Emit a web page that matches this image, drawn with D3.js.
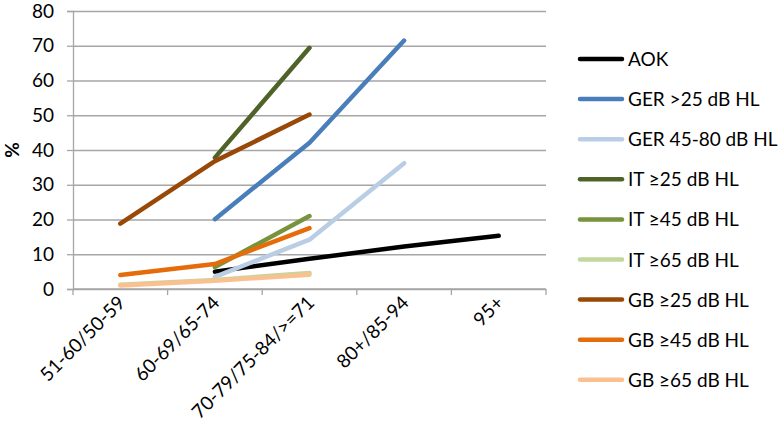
<!DOCTYPE html>
<html>
<head>
<meta charset="utf-8">
<script src="https://cdn.jsdelivr.net/npm/d3@7"></script>
<style>
  body { margin: 0; background: #fff; }
  svg text { font-family: Lato, "Open Sans", sans-serif; fill: #000; }
  .grid line { stroke: #a6a6a6; stroke-width: 1.3; }
  .grid path { display: none; }
  .axis path, .axis line { stroke: #a6a6a6; stroke-width: 1.3; }
</style>
</head>
<body>
<div id="chart"></div>
<script>
/* ── DATA ── */
const categories = ['51-60/50-59', '60-69/65-74', '70-79/75-84/>=71', '80+/85-94', '95+'];
const yTicks     = [0, 10, 20, 30, 40, 50, 60, 70, 80];

const seriesNames = ['AOK', 'GER >25 dB HL', 'GER 45-80 dB HL', 'IT \u226525 dB HL', 'IT \u226545 dB HL',
                     'IT \u226565 dB HL', 'GB \u226525 dB HL', 'GB \u226545 dB HL', 'GB \u226565 dB HL'];
const seriesColors = ['#000000', '#4a7ebb', '#b9cde5', '#4f6228', '#77933c',
                      '#c3d69b', '#984807', '#e46c0a', '#fac090'];

const aok     = [null, 5.0, 8.7, 12.2, 15.3];
const ger25   = [null, 20.1, 42.1, 71.5, null];
const ger45   = [null, 3.5, 14.2, 36.2, null];
const it25    = [null, 37.8, 69.4, null, null];
const it45    = [null, 6.3, 21.0, null, null];
const it65    = [1.2, 2.6, 4.6, null, null];
const gb25    = [18.8, 36.8, 50.2, null, null];
const gb45    = [4.0, 7.2, 17.5, null, null];
const gb65    = [1.0, 2.4, 4.1, null, null];

const seriesValues = [aok, ger25, ger45, it25, it45, it65, gb25, gb45, gb65];

/* ── LAYOUT ── */
const W = 782, H = 437;
const margin = { top: 11, right: 236, bottom: 148, left: 73 };
const iW = W - margin.left - margin.right;
const iH = H - margin.top - margin.bottom;

const svg = d3.select('#chart').append('svg').attr('width', W).attr('height', H);
const g = svg.append('g').attr('transform', `translate(${margin.left},${margin.top})`);

const x = d3.scaleBand().domain(categories).range([0, iW]);
const y = d3.scaleLinear().domain([0, 80]).range([iH, 0]);

// grid
g.append('g').attr('class', 'grid')
  .call(d3.axisLeft(y).tickValues(yTicks).tickSize(-iW).tickFormat(''));

// y axis
const yAxis = g.append('g').attr('class', 'axis')
  .call(d3.axisLeft(y).tickValues(yTicks).tickSize(6).tickPadding(13));
yAxis.selectAll('text').attr('font-size', 19);

// x axis: ticks at category boundaries
const xAxis = g.append('g').attr('class', 'axis').attr('transform', `translate(0,${iH})`);
xAxis.append('line').attr('x1', 0).attr('x2', iW).attr('y1', 0).attr('y2', 0);
xAxis.selectAll('.bnd').data(categories.concat([null])).enter().append('line')
  .attr('x1', (d, i) => i * x.step()).attr('x2', (d, i) => i * x.step())
  .attr('y1', 0).attr('y2', 6);
xAxis.selectAll('.xl').data(categories).enter().append('text')
  .attr('font-size', 19)
  .attr('text-anchor', 'end')
  .attr('transform', d => `translate(${x(d) + x.bandwidth() / 2 + 6},${15}) rotate(-45)`)
  .text(d => d);

// y title
svg.append('text')
  .attr('transform', `translate(19,${margin.top + iH / 2}) rotate(-90)`)
  .attr('text-anchor', 'middle').attr('font-size', 19).attr('font-weight', 'bold')
  .text('%');

// lines
const line = d3.line()
  .defined(d => d != null)
  .x((d, i) => x(categories[i]) + x.bandwidth() / 2)
  .y(d => y(d));

seriesValues.forEach((vals, k) => {
  g.append('path').datum(vals)
    .attr('fill', 'none')
    .attr('stroke', seriesColors[k])
    .attr('stroke-width', 4.5)
    .attr('stroke-linecap', 'round')
    .attr('stroke-linejoin', 'round')
    .attr('d', line);
});

// legend
const legend = svg.append('g').attr('transform', 'translate(578,59)');
seriesNames.forEach((name, k) => {
  const row = legend.append('g').attr('transform', `translate(0,${k * 40.1})`);
  row.append('line').attr('x1', 2).attr('x2', 44).attr('y1', 0).attr('y2', 0)
    .attr('stroke', seriesColors[k]).attr('stroke-width', 4.5).attr('stroke-linecap', 'round');
  row.append('text').attr('x', 50).attr('y', 7).attr('font-size', 19).text(name);
});
</script>
</body>
</html>
